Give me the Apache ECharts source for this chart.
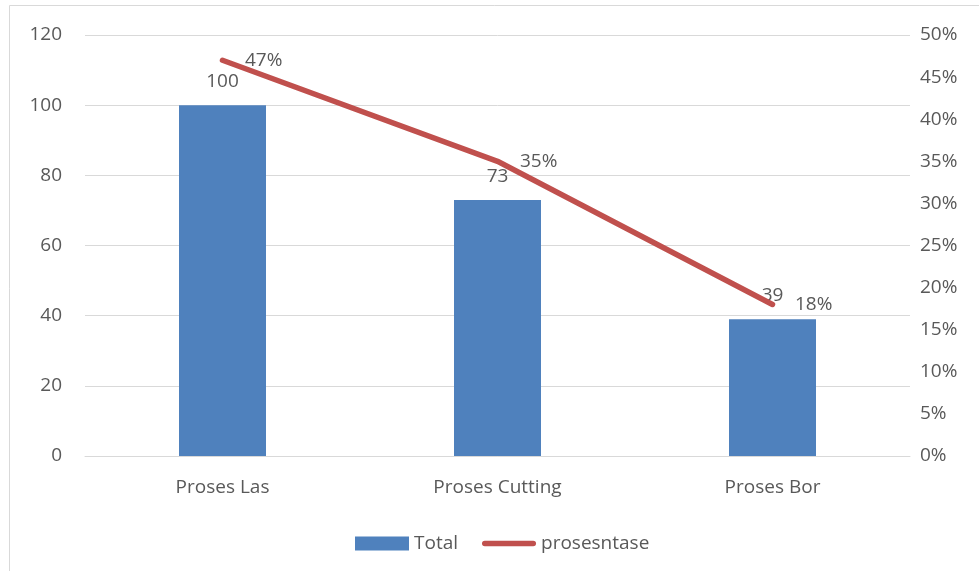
<!DOCTYPE html>
<html>
<head>
<meta charset="utf-8">
<script src="https://cdn.jsdelivr.net/npm/echarts@6/dist/echarts.min.js"></script>
<style>
  html, body { margin: 0; padding: 0; background: #fff; }
  #chart { width: 979px; height: 571px; }
</style>
</head>
<body>
<div id="chart"></div>
<script>
// Process categories and their totals
const categories = ['Proses Las', 'Proses Cutting', 'Proses Bor'];
const totals = [100, 73, 39];
// Share of each process, as fractions
const percentages = [0.47, 0.35, 0.18];
const seriesNames = ['Total', 'prosesntase'];

const textColor = '#595959';
const lineColor = '#c0504d';
const fontFamily = '"Open Sans", "Noto Sans", sans-serif';
const pct = v => Math.round(v * 100) + '%';

const chart = echarts.init(document.getElementById('chart'), null, { renderer: 'canvas' });

chart.setOption({
  animation: false,
  backgroundColor: '#ffffff',
  textStyle: { fontFamily: fontFamily, color: textColor },
  graphic: [{
    type: 'rect',
    shape: { x: 9.5, y: 5.5, width: 1000, height: 600 },
    style: { fill: 'none', stroke: '#d9d9d9', lineWidth: 1 },
    silent: true, z: -1
  }],
  grid: { left: 85, right: 69, top: 35, bottom: 115, containLabel: false },
  legend: {
    left: 350,
    top: 529,
    itemWidth: 54,
    itemHeight: 14,
    itemGap: 24,
    textStyle: { fontSize: 19, color: textColor, fontFamily: fontFamily },
    data: [
      { name: seriesNames[0], icon: 'rect' },
      {
        name: seriesNames[1],
        icon: 'path://M3,0 L55,0 A3,3 0 0 1 55,6 L3,6 A3,3 0 0 1 3,0 Z',
        itemStyle: { color: lineColor }
      }
    ]
  },
  xAxis: {
    type: 'category',
    data: categories,
    axisLine: { show: true, lineStyle: { color: '#d9d9d9', width: 1 } },
    axisTick: { show: false },
    axisLabel: { fontSize: 19, color: textColor, margin: 22 }
  },
  yAxis: [
    {
      type: 'value',
      min: 0, max: 120, interval: 20,
      axisLine: { show: false },
      axisTick: { show: false },
      splitLine: { lineStyle: { color: '#d9d9d9', width: 1 } },
      axisLabel: { fontSize: 19, color: textColor, margin: 23 }
    },
    {
      type: 'value',
      min: 0, max: 0.5, interval: 0.05,
      position: 'right',
      axisLine: { show: false },
      axisTick: { show: false },
      splitLine: { show: false },
      axisLabel: { fontSize: 19, color: textColor, margin: 10, formatter: pct }
    }
  ],
  series: [
    {
      name: seriesNames[0],
      type: 'bar',
      data: totals,
      barWidth: 87,
      itemStyle: { color: '#4f81bd' },
      label: {
        show: true, position: 'top', distance: 14,
        fontSize: 19, color: textColor
      }
    },
    {
      name: seriesNames[1],
      type: 'line',
      yAxisIndex: 1,
      data: percentages,
      symbol: 'circle',
      symbolSize: 1,
      showSymbol: true,
      lineStyle: { color: lineColor, width: 5.5, cap: 'round' },
      itemStyle: { color: lineColor },
      label: {
        show: true, position: 'right', distance: 22,
        fontSize: 19, color: textColor, formatter: p => pct(p.value)
      },
      z: 3
    }
  ]
});
</script>
</body>
</html>
